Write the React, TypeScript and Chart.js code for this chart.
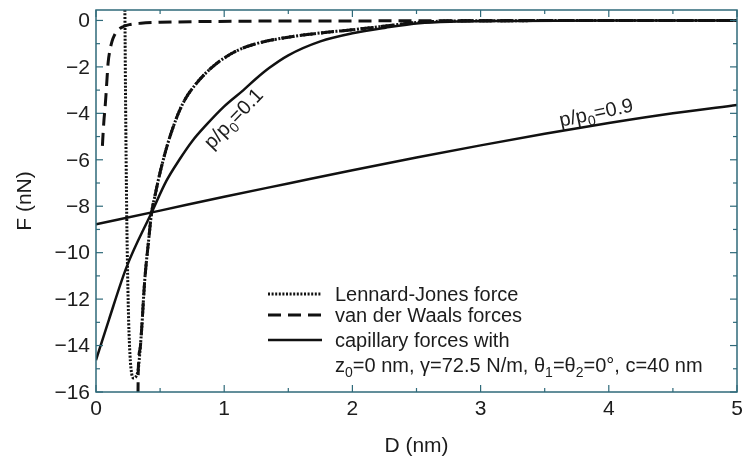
import React, { useEffect, useRef } from 'react';
import { Chart, registerables } from 'chart.js';

Chart.register(...registerables);

// ---- Data ----
// Lennard-Jones force (dotted)
const ljD = [0.222, 0.226, 0.23, 0.235, 0.24, 0.247, 0.255, 0.265, 0.278, 0.295, 0.315, 0.33, 0.345, 0.356, 0.38, 0.41, 0.434, 0.46, 0.485, 0.52, 0.56, 0.6, 0.65, 0.7, 0.77, 0.85, 0.93, 1.0, 1.1, 1.25, 1.5, 1.75, 2.0, 2.26, 2.52, 2.8, 3.2, 4.0, 5.0];
const ljF = [2, 0, -3, -6, -8.5, -11, -13, -14.4, -15.2, -15.4, -15.3, -15.0, -14.1, -13.3, -11.2, -9.5, -8.27, -7.55, -6.9, -6.1, -5.3, -4.62, -3.9, -3.35, -2.8, -2.3, -1.9, -1.62, -1.3, -1.0, -0.72, -0.54, -0.4, -0.24, -0.08, -0.02, -0.01, 0, 0];

// van der Waals force, first curve (dashed)
const vdw1D = [0.05, 0.056, 0.062, 0.07, 0.078, 0.086, 0.095, 0.11, 0.125, 0.145, 0.17, 0.21, 0.26, 0.35, 0.5, 0.8, 1.2, 2, 3, 4, 5];
const vdw1F = [-5.4, -4.8, -4.3, -3.8, -3.2, -2.5, -1.8, -1.25, -0.9, -0.62, -0.42, -0.27, -0.18, -0.12, -0.08, -0.05, -0.03, -0.02, -0.01, 0, 0];

// van der Waals force, second curve (dashed)
const vdw2D = [0.326, 0.33, 0.345, 0.356, 0.38, 0.41, 0.434, 0.46, 0.485, 0.52, 0.56, 0.6, 0.65, 0.7, 0.77, 0.85, 0.93, 1.0, 1.1, 1.25, 1.5, 1.75, 2.0, 2.26, 2.52, 2.8, 3.2, 4.0, 5.0];
const vdw2F = [-17, -15.0, -14.1, -13.3, -11.2, -9.5, -8.27, -7.55, -6.9, -6.1, -5.3, -4.62, -3.9, -3.35, -2.8, -2.3, -1.9, -1.62, -1.3, -1.0, -0.72, -0.54, -0.4, -0.24, -0.08, -0.02, -0.01, 0, 0];

// capillary force p/p0 = 0.1 (solid)
const cap01D = [0, 0.1, 0.239, 0.434, 0.55, 0.65, 0.75, 0.86, 1.0, 1.15, 1.25, 1.35, 1.5, 1.75, 2.0, 2.26, 2.52, 2.8, 3.2, 4, 5];
const cap01F = [-14.63, -12.9, -10.61, -8.27, -6.9, -6.0, -5.2, -4.5, -3.7, -3.0, -2.5, -2.05, -1.5, -0.9, -0.55, -0.31, -0.12, -0.05, -0.02, 0, 0];

// capillary force p/p0 = 0.9 (solid)
const cap09D = [0, 0.5, 1, 1.5, 2, 2.5, 3, 3.5, 4, 4.5, 5];
const cap09F = [-8.78, -8.19, -7.59, -7.02, -6.45, -5.9, -5.38, -4.88, -4.42, -4.0, -3.64];

const xTicks = [0, 1, 2, 3, 4, 5];
const xMinorTicks = [0.5, 1.5, 2.5, 3.5, 4.5];
const yTicks = [0, -2, -4, -6, -8, -10, -12, -14, -16];
const yMinorTicks = [-1, -3, -5, -7, -9, -11, -13, -15];

const legendLabels = ['Lennard-Jones force', 'van der Waals forces', 'capillary forces with'];
const xTitle = 'D (nm)';
const yTitle = 'F (nN)';

const FONT = '"Liberation Sans", Arial, Helvetica, sans-serif';
const LINE = '#111111';
const AXIS = '#2f6a7a';
const TEXT = '#1c1c1c';
const DOT = [2, 1.6];
const DASH = [13, 7];

type Seg = [string, boolean];

function setFont(ctx: CanvasRenderingContext2D, size: number) {
  ctx.font = `${size}px ${FONT}`;
}

function richWidth(ctx: CanvasRenderingContext2D, segs: Seg[], size: number) {
  let w = 0;
  for (const [t, sub] of segs) {
    setFont(ctx, sub ? size * 0.7 : size);
    w += ctx.measureText(t).width;
  }
  return w;
}

// draws rich text with left edge at x, baseline at y
function drawRich(ctx: CanvasRenderingContext2D, segs: Seg[], x: number, y: number, size: number) {
  let cx = x;
  ctx.textBaseline = 'alphabetic';
  ctx.textAlign = 'left';
  for (const [t, sub] of segs) {
    const s = sub ? size * 0.7 : size;
    setFont(ctx, s);
    ctx.fillText(t, cx, sub ? y + size * 0.25 : y);
    cx += ctx.measureText(t).width;
  }
}

const decoPlugin = {
  id: 'deco',
  afterDatasetsDraw(chart: any) {
    const { ctx, chartArea: a, scales } = chart;
    const xs = scales.x;
    const ys = scales.y;
    ctx.save();

    // frame
    ctx.strokeStyle = AXIS;
    ctx.lineWidth = 1.5;
    ctx.setLineDash([]);
    ctx.strokeRect(a.left, a.top, a.right - a.left, a.bottom - a.top);

    // ticks (inward, on all four sides)
    const tick = (x1: number, y1: number, x2: number, y2: number) => {
      ctx.beginPath();
      ctx.moveTo(x1, y1);
      ctx.lineTo(x2, y2);
      ctx.stroke();
    };
    ctx.lineWidth = 1.2;
    for (const v of xTicks) {
      const px = xs.getPixelForValue(v);
      tick(px, a.bottom, px, a.bottom - 7);
      tick(px, a.top, px, a.top + 7);
    }
    for (const v of xMinorTicks) {
      const px = xs.getPixelForValue(v);
      tick(px, a.bottom, px, a.bottom - 4);
      tick(px, a.top, px, a.top + 4);
    }
    for (const v of yTicks) {
      const py = ys.getPixelForValue(v);
      tick(a.left, py, a.left + 7, py);
      tick(a.right, py, a.right - 7, py);
    }
    for (const v of yMinorTicks) {
      const py = ys.getPixelForValue(v);
      tick(a.left, py, a.left + 4, py);
      tick(a.right, py, a.right - 4, py);
    }

    // tick labels
    ctx.fillStyle = TEXT;
    setFont(ctx, 21);
    ctx.textAlign = 'right';
    ctx.textBaseline = 'middle';
    for (const v of yTicks) {
      const py = ys.getPixelForValue(v);
      const label = v === 0 ? '0' : '\u2212' + Math.abs(v);
      ctx.fillText(label, a.left - 6, py + 1);
    }
    ctx.textAlign = 'center';
    for (const v of xTicks) {
      const px = xs.getPixelForValue(v);
      ctx.fillText(String(v), px, 409);
    }

    // axis titles
    ctx.fillText(xTitle, (a.left + a.right) / 2, 446);
    ctx.save();
    ctx.translate(25, (a.top + a.bottom) / 2);
    ctx.rotate(-Math.PI / 2);
    ctx.fillText(yTitle, 0, 0);
    ctx.restore();

    // curve annotations
    const ann = (segs: Seg[], cx: number, cy: number, deg: number, size: number) => {
      ctx.save();
      ctx.translate(cx, cy);
      ctx.rotate((deg * Math.PI) / 180);
      const w = richWidth(ctx, segs, size);
      drawRich(ctx, segs, -w / 2, size * 0.36, size);
      ctx.restore();
    };
    ann([['p/p', false], ['0', true], ['=0.1', false]], 233, 118, -46, 20);
    ann([['p/p', false], ['0', true], ['=0.9', false]], 596, 112, -12, 20);

    // legend
    const rows = [294, 315, 340];
    const dashes = [DOT, DASH, []];
    const widths = [3, 3, 2.5];
    for (let i = 0; i < 3; i++) {
      ctx.strokeStyle = LINE;
      ctx.lineWidth = widths[i];
      ctx.setLineDash(dashes[i]);
      ctx.beginPath();
      ctx.moveTo(268, rows[i]);
      ctx.lineTo(322, rows[i]);
      ctx.stroke();
      ctx.fillStyle = TEXT;
      drawRich(ctx, [[legendLabels[i], false]], 335, rows[i] + 7, 20);
    }
    ctx.setLineDash([]);
    drawRich(
      ctx,
      [
        ['z', false], ['0', true], ['=0 nm, \u03b3=72.5 N/m, \u03b8', false], ['1', true],
        ['=\u03b8', false], ['2', true], ['=0\u00b0, c=40 nm', false],
      ],
      335,
      372,
      20
    );

    ctx.restore();
  },
};

function toPts(xsArr: number[], ysArr: number[]) {
  return xsArr.map((x, i) => ({ x, y: ysArr[i] }));
}

export default function App() {
  const ref = useRef<HTMLCanvasElement | null>(null);

  useEffect(() => {
    if (!ref.current) return;
    const base = {
      showLine: true,
      pointRadius: 0,
      borderColor: LINE,
      backgroundColor: LINE,
      fill: false,
      cubicInterpolationMode: 'monotone' as const,
    };
    const chart = new Chart(ref.current, {
      type: 'scatter',
      data: {
        datasets: [
          { ...base, label: legendLabels[0], data: toPts(ljD, ljF), borderWidth: 3, borderDash: DOT },
          { ...base, label: legendLabels[1], data: toPts(vdw1D, vdw1F), borderWidth: 3, borderDash: DASH },
          { ...base, label: legendLabels[1] + ' 2', data: toPts(vdw2D, vdw2F), borderWidth: 3, borderDash: DASH },
          { ...base, label: 'p/p0=0.1', data: toPts(cap01D, cap01F), borderWidth: 2.5 },
          { ...base, label: 'p/p0=0.9', data: toPts(cap09D, cap09F), borderWidth: 2.5 },
        ],
      },
      options: {
        animation: false,
        responsive: false,
        devicePixelRatio: 1,
        layout: { padding: { left: 96, right: 7, top: 10, bottom: 66 } },
        scales: {
          x: { type: 'linear', min: 0, max: 5, display: false },
          y: { type: 'linear', min: -16, max: 0.45, display: false },
        },
        plugins: {
          legend: { display: false },
          tooltip: { enabled: false },
        },
      },
      plugins: [decoPlugin],
    });
    return () => chart.destroy();
  }, []);

  return (
    <div style={{ position: 'fixed', left: 0, top: 0, width: 744, height: 458, background: '#fff' }}>
      <canvas ref={ref} width={744} height={458} />
    </div>
  );
}
